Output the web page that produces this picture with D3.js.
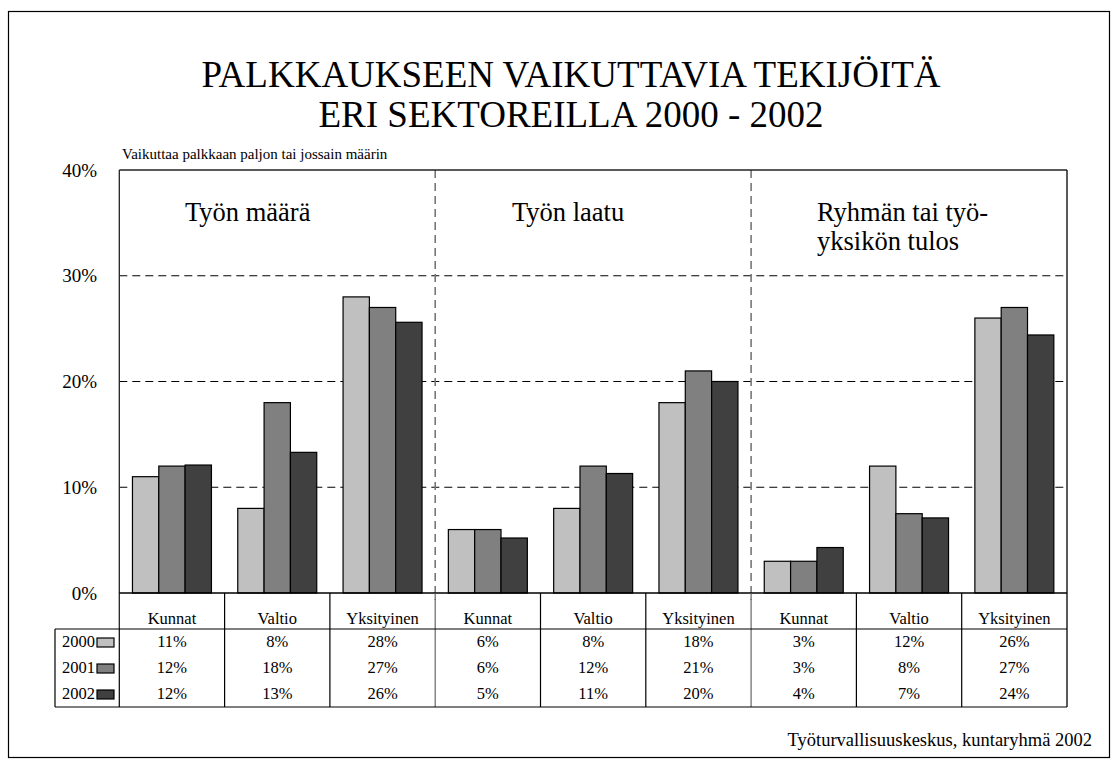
<!DOCTYPE html>
<html>
<head>
<meta charset="utf-8">
<script src="https://cdn.jsdelivr.net/npm/d3@7"></script>
<style>
  body { margin: 0; background: #fff; }
</style>
</head>
<body>
<div id="chart"></div>
<script>
/* Palkkaukseen vaikuttavia tekijöitä - grouped bars with data table */

// data
const groups = ["Työn määrä", "Työn laatu", "Ryhmän tai työ-|yksikön tulos"];
const sectors = ["Kunnat", "Valtio", "Yksityinen"];
const years = ["2000", "2001", "2002"];
const values2000 = [11.0, 8.0, 28.0, 6.0, 8.0, 18.0, 3.0, 12.0, 26.0];
const values2001 = [12.0, 18.0, 27.0, 6.0, 12.0, 21.0, 3.0, 7.5, 27.0];
const values2002 = [12.1, 13.3, 25.6, 5.2, 11.3, 20.0, 4.3, 7.1, 24.4];
const yTicks = [0, 10, 20, 30, 40];
const colors = ["#c0c0c0", "#808080", "#404040"];

const series = [values2000, values2001, values2002];
// one column per group/sector pair
const columns = [];
groups.forEach((g, gi) => sectors.forEach((s, si) => columns.push({key: gi * 3 + si, sector: s})));

const FONT = "'Liberation Serif', 'Times New Roman', Times, serif";
const W = 1117, H = 760;
const plot = {left: 119.3, right: 1067, top: 170, bottom: 593};
const rowY = [629, 655, 681, 707];   // table row edges

const svg = d3.select("#chart")
  .append("svg")
  .attr("width", W)
  .attr("height", H)
  .attr("font-family", FONT);

// outer frame
svg.append("rect")
  .attr("x", 8.5).attr("y", 11.5)
  .attr("width", 1101).attr("height", 746)
  .attr("fill", "none").attr("stroke", "#000").attr("stroke-width", 1.2);

// title
svg.append("text").attr("x", 571).attr("y", 87).attr("text-anchor", "middle")
  .style("font-size", "37px").text("PALKKAUKSEEN VAIKUTTAVIA TEKIJÖITÄ");
svg.append("text").attr("x", 571).attr("y", 127).attr("text-anchor", "middle")
  .style("font-size", "37px").text("ERI SEKTOREILLA 2000 - 2002");

svg.append("text").attr("x", 122).attr("y", 159)
  .style("font-size", "15px").text("Vaikuttaa palkkaan paljon tai jossain määrin");

// scales
const x = d3.scaleBand()
  .domain(columns.map(d => d.key))
  .range([plot.left, plot.right])
  .padding(0);
const xInner = d3.scaleBand()
  .domain(years)
  .range([0, x.bandwidth()])
  .paddingInner(0)
  .paddingOuter(0.5);
const y = d3.scaleLinear()
  .domain([0, 40])
  .range([plot.bottom, plot.top]);

// horizontal gridlines
svg.append("g").selectAll("line")
  .data(yTicks.filter(t => t > 0 && t < 40))
  .join("line")
  .attr("x1", plot.left).attr("x2", plot.right)
  .attr("y1", d => y(d)).attr("y2", d => y(d))
  .attr("stroke", "#000").attr("stroke-width", 1)
  .attr("stroke-dasharray", "8,5");

// y axis labels
svg.append("g").selectAll("text")
  .data(yTicks)
  .join("text")
  .attr("x", 97).attr("y", d => y(d)).attr("dy", "0.35em")
  .attr("text-anchor", "end")
  .style("font-size", "19px")
  .text(d => d + "%");

// vertical group separators
const sepX = [x(3), x(6)];
svg.append("g").selectAll("line")
  .data(sepX)
  .join("line")
  .attr("x1", d => d).attr("x2", d => d)
  .attr("y1", plot.top).attr("y2", plot.bottom + 7)
  .attr("stroke", "#777").attr("stroke-width", 1.6)
  .attr("stroke-dasharray", "8,5");

// bars
const colG = svg.append("g").selectAll("g")
  .data(columns)
  .join("g")
  .attr("transform", d => "translate(" + x(d.key) + ",0)");
colG.selectAll("rect")
  .data(d => years.map((yr, i) => ({year: yr, v: series[i][d.key], i: i})))
  .join("rect")
  .attr("x", d => xInner(d.year))
  .attr("width", xInner.bandwidth())
  .attr("y", d => y(d.v))
  .attr("height", d => y(0) - y(d.v))
  .attr("fill", d => colors[d.i])
  .attr("stroke", "#000").attr("stroke-width", 1.2);

// plot frame
svg.append("line").attr("x1", plot.left).attr("x2", plot.right).attr("y1", plot.top).attr("y2", plot.top)
  .attr("stroke", "#222").attr("stroke-width", 1.3);
svg.append("line").attr("x1", plot.left).attr("x2", plot.left).attr("y1", plot.top).attr("y2", rowY[0])
  .attr("stroke", "#222").attr("stroke-width", 1.3);
svg.append("line").attr("x1", plot.right).attr("x2", plot.right).attr("y1", plot.top).attr("y2", rowY[3])
  .attr("stroke", "#000").attr("stroke-width", 1.3);
svg.append("line").attr("x1", plot.left).attr("x2", plot.right).attr("y1", plot.bottom).attr("y2", plot.bottom)
  .attr("stroke", "#000").attr("stroke-width", 1.5);

// group labels
const groupLabelX = [185, 512, 817];
groups.forEach((g, gi) => {
  g.split("|").forEach((line, li) => {
    svg.append("text")
      .attr("x", groupLabelX[gi])
      .attr("y", 221 + li * 29)
      .style("font-size", "26.5px")
      .text(line);
  });
});

// data table
const table = svg.append("g");
// column lines
table.selectAll("line.col")
  .data(columns.slice(1))
  .join("line")
  .attr("class", "col")
  .attr("x1", d => x(d.key)).attr("x2", d => x(d.key))
  .attr("y1", plot.bottom).attr("y2", rowY[3])
  .attr("stroke", d => d.key % 3 === 0 ? "#666" : "#000").attr("stroke-width", 1.2);
// horizontal lines
[rowY[0], rowY[3]].forEach(ry => {
  table.append("line")
    .attr("x1", 55).attr("x2", plot.right)
    .attr("y1", ry).attr("y2", ry)
    .attr("stroke", "#000").attr("stroke-width", 1.2);
});
table.append("line").attr("x1", 55).attr("x2", 55).attr("y1", rowY[0]).attr("y2", rowY[3])
  .attr("stroke", "#000").attr("stroke-width", 1.2);
table.append("line").attr("x1", plot.left).attr("x2", plot.left).attr("y1", rowY[0]).attr("y2", rowY[3])
  .attr("stroke", "#000").attr("stroke-width", 1.2);

// sector names
table.selectAll("text.sector")
  .data(columns)
  .join("text")
  .attr("class", "sector")
  .attr("x", d => x(d.key) + x.bandwidth() / 2)
  .attr("y", 624)
  .attr("text-anchor", "middle")
  .style("font-size", "16.5px")
  .text(d => d.sector);

// values
series.forEach((vals, i) => {
  table.selectAll("text.v" + i)
    .data(columns)
    .join("text")
    .attr("class", "v" + i)
    .attr("x", d => x(d.key) + x.bandwidth() / 2)
    .attr("y", rowY[i] + 18)
    .attr("text-anchor", "middle")
    .style("font-size", "16.5px")
    .text(d => Math.round(vals[d.key]) + "%");
});

// legend in the table
years.forEach((yr, i) => {
  table.append("text")
    .attr("x", 95).attr("y", rowY[i] + 18)
    .attr("text-anchor", "end")
    .style("font-size", "16.5px")
    .text(yr);
  table.append("rect")
    .attr("x", 97).attr("y", rowY[i] + 9)
    .attr("width", 17).attr("height", 9)
    .attr("fill", colors[i]).attr("stroke", "#000").attr("stroke-width", 1.2);
});

// source
svg.append("text").attr("x", 1092).attr("y", 746).attr("text-anchor", "end")
  .style("font-size", "18.5px").text("Työturvallisuuskeskus, kuntaryhmä 2002");

// every label in the same serif face
svg.selectAll("text").style("font-family", FONT).attr("fill", "#000");
</script>
</body>
</html>
